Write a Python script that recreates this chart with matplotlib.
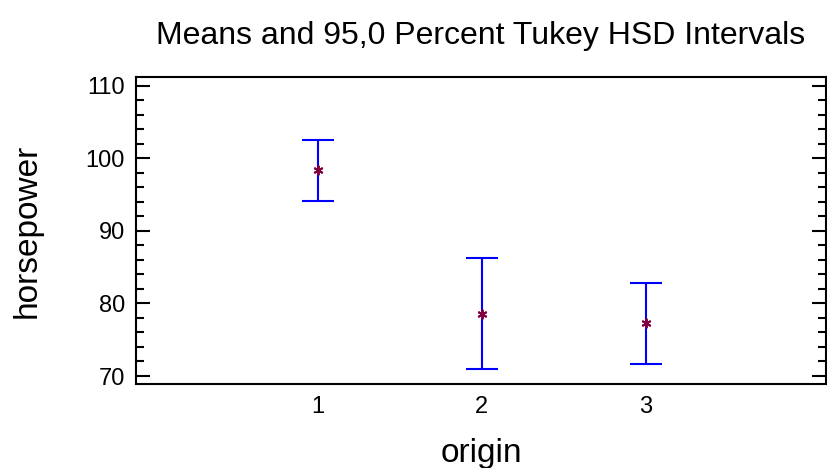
import matplotlib.pyplot as plt
from matplotlib.ticker import MultipleLocator

plt.rcParams["font.family"] = ["Liberation Sans", "DejaVu Sans"]

# group means and Tukey HSD interval limits
groups = [1, 2, 3]
means = [98.35, 78.55, 77.25]
lower = [94.15, 70.9, 71.7]
upper = [102.45, 86.2, 82.8]

fig = plt.figure(figsize=(8.27, 4.68), dpi=100)
ax = fig.add_axes([0.1644, 0.1795, 0.8344, 0.656])

err_lo = [m - lo for m, lo in zip(means, lower)]
err_hi = [hi - m for m, hi in zip(means, upper)]
ax.errorbar(groups, means, yerr=[err_lo, err_hi], fmt="none",
            ecolor="#0000FF", elinewidth=1.5, capsize=11.5, capthick=1.5)
ax.plot(groups, means, linestyle="none", marker=(6, 2, 0), markersize=7,
        color="#800040", markeredgewidth=1.4)

ax.set_xlim(-0.11, 4.1)
ax.set_ylim(68.9, 111.2)
ax.set_xticks(groups)
ax.yaxis.set_major_locator(MultipleLocator(10))
ax.yaxis.set_minor_locator(MultipleLocator(2))
ax.tick_params(axis="x", length=0, labelsize=17, pad=9)
ax.tick_params(axis="y", which="major", direction="in", length=10, width=1.5,
               labelsize=17, right=True, pad=8)
ax.tick_params(axis="y", which="minor", direction="in", length=6, width=1.5,
               right=True)
for s in ax.spines.values():
    s.set_linewidth(1.5)

ax.set_xlabel("origin", fontsize=24, labelpad=14)
ax.set_ylabel("horsepower", fontsize=24, labelpad=31)
ax.set_title("Means and 95,0 Percent Tukey HSD Intervals", fontsize=23, pad=24)

fig.savefig("out.png", dpi=100)
